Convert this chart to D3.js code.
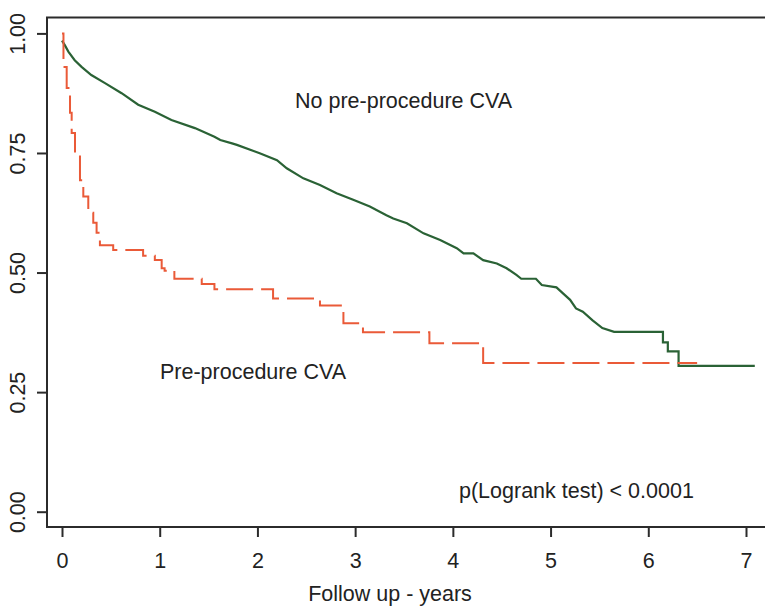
<!DOCTYPE html>
<html>
  <head>
    <meta charset="utf-8">
    <title>Survival by pre-procedure CVA</title>
    <style media="screen">
      body {margin:0; background:#fff}
      text {font-family: "Liberation Sans", Arial, sans-serif; font-size: 21.5px; fill: #222}
    </style>
  </head>
  <body>
    <script src="https://cdn.jsdelivr.net/npm/d3@7"></script>
    <script type="text/javascript">

    const xTicks = [0, 1, 2, 3, 4, 5, 6, 7]
    const yTicks = [0, 0.25, 0.5, 0.75, 1]

    // no pre-procedure CVA (solid green)
    const noCvaTime = [0, 0.03, 0.065, 0.13, 0.2, 0.3, 0.44, 0.61, 0.78, 0.95, 1.12, 1.36, 1.56, 1.62, 1.74, 1.79,
      2.03, 2.2, 2.3, 2.47, 2.64, 2.81, 2.98, 3.15, 3.32, 3.39, 3.53, 3.7, 3.87, 4.04, 4.11, 4.21, 4.31, 4.45,
      4.55, 4.65, 4.7, 4.85, 4.91, 5.06, 5.13, 5.2, 5.26, 5.33, 5.43, 5.53, 5.65, 6.15, 6.15, 6.2, 6.2, 6.31, 6.31, 7.09]
    const noCvaSurv = [0.985, 0.975, 0.962, 0.944, 0.93, 0.913, 0.896, 0.875, 0.851, 0.836, 0.819, 0.802, 0.784, 0.777, 0.77, 0.767,
      0.749, 0.735, 0.718, 0.697, 0.683, 0.666, 0.652, 0.638, 0.62, 0.613, 0.603, 0.582, 0.568, 0.551, 0.54, 0.54, 0.526, 0.519,
      0.509, 0.495, 0.487, 0.487, 0.474, 0.469, 0.456, 0.443, 0.425, 0.418, 0.4, 0.384, 0.376, 0.376, 0.354, 0.354, 0.335, 0.335, 0.305, 0.305]

    // pre-procedure CVA (dashed red), step points
    const cvaTime = [0, 0.015, 0.048, 0.082, 0.099, 0.133, 0.184, 0.218, 0.269, 0.32, 0.354, 0.388, 0.524, 0.83, 0.95,
      1.02, 1.05, 1.15, 1.43, 1.56, 2.16, 2.64, 2.88, 3.08, 3.76, 4.31, 6.5]
    const cvaSurv = [1, 0.93, 0.886, 0.834, 0.792, 0.75, 0.693, 0.659, 0.625, 0.604, 0.583, 0.557, 0.547, 0.535, 0.526,
      0.509, 0.504, 0.487, 0.476, 0.465, 0.446, 0.431, 0.394, 0.375, 0.352, 0.311, 0.311]

    const w = 765, h = 607

    const svg = d3.select('body').append('svg')
      .attr('width', w)
      .attr('height', h)

    const x = d3.scaleLinear().domain([0, 7]).range([62, 746])
    const y = d3.scaleLinear().domain([0, 1]).range([511.7, 33.4])

    // frame
    svg.append('rect')
      .attr('x', 47).attr('y', 17.5)
      .attr('width', 760).attr('height', 527 - 17.5)
      .attr('fill', 'none').attr('stroke', '#2b2b2b').attr('stroke-width', 2)

    const yAxis = svg.append('g')
      .attr('transform', 'translate(47,0)')
      .call(d3.axisLeft(y).tickValues(yTicks).tickFormat(d3.format('.2f')).tickSize(10).tickSizeOuter(0))
    yAxis.select('.domain').remove()
    yAxis.selectAll('line').attr('stroke', '#2b2b2b').attr('stroke-width', 2)
    yAxis.selectAll('text')
      .attr('transform', 'rotate(-90)')
      .attr('x', 0).attr('y', -22).attr('dy', 0)
      .attr('text-anchor', 'middle')
      .attr('fill', null)

    const xAxis = svg.append('g')
      .attr('transform', 'translate(0,527)')
      .call(d3.axisBottom(x).tickValues(xTicks).tickFormat(d3.format('d')).tickSize(10).tickSizeOuter(0))
    xAxis.select('.domain').remove()
    xAxis.selectAll('line').attr('stroke', '#2b2b2b').attr('stroke-width', 2)
    xAxis.selectAll('text')
      .attr('y', 41).attr('dy', 0)
      .attr('fill', null)

    yAxis.attr('font-size', null).attr('font-family', null)
    xAxis.attr('font-size', null).attr('font-family', null)

    svg.append('text')
      .attr('x', 390).attr('y', 601)
      .attr('text-anchor', 'middle')
      .text('Follow up - years')

    const green = d3.line()
      .x((d, i) => x(noCvaTime[i]))
      .y(d => y(d))

    svg.append('path')
      .attr('d', green(noCvaSurv))
      .attr('fill', 'none')
      .attr('stroke', '#2a6235')
      .attr('stroke-width', 2.2)

    const red = d3.line()
      .curve(d3.curveStepAfter)
      .x((d, i) => x(cvaTime[i]))
      .y(d => y(d))

    svg.append('path')
      .attr('d', red(cvaSurv))
      .attr('fill', 'none')
      .attr('stroke', '#ea5a38')
      .attr('stroke-width', 2)
      .attr('stroke-dasharray', '27,8')

    svg.append('text').attr('x', 295).attr('y', 108).text('No pre-procedure CVA')
    svg.append('text').attr('x', 160).attr('y', 379).text('Pre-procedure CVA')
    svg.append('text').attr('x', 459).attr('y', 498).text('p(Logrank test) < 0.0001')

    </script>
  </body>
</html>
